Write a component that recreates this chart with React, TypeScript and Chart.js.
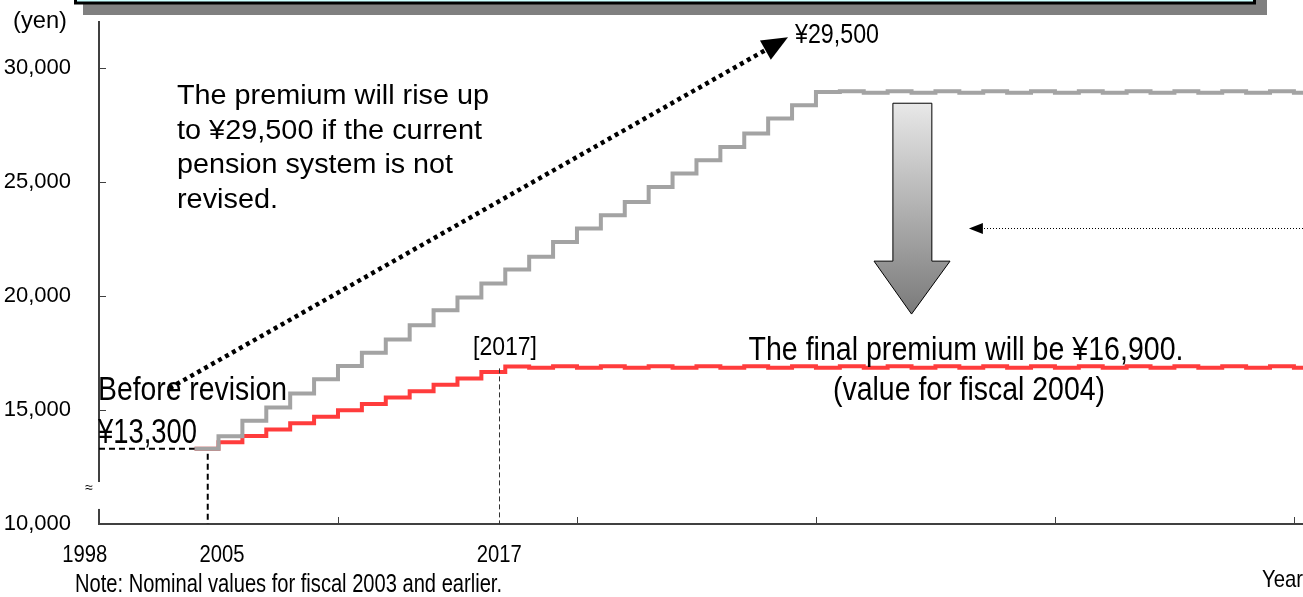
import React, { useEffect, useRef } from 'react';
import { Chart, registerables } from 'chart.js';

Chart.register(...registerables);

const FONT = '"Liberation Sans", Arial, Helvetica, sans-serif';

// fiscal years (each value holds from the start of that year to the next)
const YEARS = [
  2004, 2005, 2006, 2007, 2008, 2009, 2010, 2011, 2012, 2013, 2014, 2015,
  2016, 2017, 2018, 2019, 2020, 2021, 2022, 2023, 2024, 2025, 2026, 2027,
  2028, 2029, 2030, 2031, 2032, 2033, 2034, 2035, 2036, 2037, 2038, 2039,
  2040, 2041, 2042, 2043, 2044, 2045, 2046, 2047, 2048, 2049, 2050, 2051,
];

// premium without revision (grey)
const PREMIUM_UNREVISED = [
  13300, 13850, 14520, 15110, 15720, 16340, 16920, 17500, 18090, 18710, 19370, 19930,
  20540, 21150, 21710, 22360, 22950, 23530, 24110, 24770, 25360, 25940, 26520, 27110,
  27770, 28350, 28930, 28960, 28900, 28960, 28900, 28960, 28900, 28960, 28900, 28960,
  28900, 28960, 28900, 28960, 28900, 28960, 28900, 28960, 28900, 28960, 28900, 28960,
];

// premium after revision (red)
const PREMIUM_REVISED = [
  13300, 13580, 13860, 14140, 14420, 14700, 14980, 15260, 15540, 15820, 16100, 16380,
  16660, 16900, 16850, 16910, 16850, 16910, 16850, 16910, 16850, 16910, 16850, 16910,
  16850, 16910, 16850, 16910, 16850, 16910, 16850, 16910, 16850, 16910, 16850, 16910,
  16850, 16910, 16850, 16910, 16850, 16910, 16850, 16910, 16850, 16910, 16850, 16910,
];

const Y_TICKS = [10000, 15000, 20000, 25000, 30000];
const X_TICK_MARKS = [2000, 2010, 2020, 2030, 2040, 2050];
const X_LABELS = ['1998', '2005', '2017'];
const X_LABEL_AT = [1999.4, 2005.15, 2016.75];

const BEFORE_REVISION = 13300;
const MARK_2005 = 2004.55;
const MARK_2017 = 2016.75;

// annotation anchors in data units
const RISE_ARROW_FROM = { x: 2002.95, y: 15950 };
const RISE_ARROW_TO = { x: 2028.83, y: 31330 };
const DOWN_ARROW = { l: 2033.22, r: 2034.85, hl: 2032.43, hr: 2035.61, c: 2034.0, top: 28440, base: 21520, tip: 19200 };
const POINTER_TIP = { x: 2036.4, y: 22960 };

function drawText(
  ctx: CanvasRenderingContext2D,
  s: string,
  x: number,
  y: number,
  size: number,
  width: number,
  align: 'left' | 'center' | 'right' = 'left'
) {
  ctx.save();
  ctx.font = `${size}px ${FONT}`;
  const w = ctx.measureText(s).width;
  const k = width / w;
  let x0 = x;
  if (align === 'center') x0 = x - width / 2;
  else if (align === 'right') x0 = x - width;
  ctx.translate(x0, y);
  ctx.scale(k, 1);
  ctx.textAlign = 'left';
  ctx.textBaseline = 'alphabetic';
  ctx.fillStyle = '#000';
  ctx.fillText(s, 0, 0);
  ctx.restore();
}

function line(ctx: CanvasRenderingContext2D, x1: number, y1: number, x2: number, y2: number) {
  ctx.beginPath();
  ctx.moveTo(x1, y1);
  ctx.lineTo(x2, y2);
  ctx.stroke();
}

const decorations = {
  id: 'decorations',
  afterDraw(chart: any) {
    const { ctx, chartArea } = chart;
    const xs = chart.scales.x;
    const ys = chart.scales.y;
    const px = (v: number) => xs.getPixelForValue(v);
    const py = (v: number) => ys.getPixelForValue(v);

    ctx.save();

    // title box (cut off at the top) with shadow
    ctx.fillStyle = '#808080';
    ctx.fillRect(83, 0, 1184, 15);
    ctx.fillStyle = '#ccffff';
    ctx.fillRect(75, -12, 1181, 14);
    ctx.strokeStyle = '#000';
    ctx.lineWidth = 3;
    ctx.strokeRect(75.5, -12, 1179, 15);

    // inward tick marks
    ctx.strokeStyle = '#404040';
    ctx.lineWidth = 1;
    Y_TICKS.slice(1).forEach((v) => {
      const yy = Math.round(py(v)) + 0.5;
      line(ctx, chartArea.left, yy, chartArea.left + 7, yy);
    });
    X_TICK_MARKS.slice(1).forEach((v) => {
      const xx = Math.round(px(v)) + 0.5;
      line(ctx, xx, chartArea.bottom, xx, chartArea.bottom - 7);
    });

    // axis break
    ctx.fillStyle = '#fff';
    ctx.fillRect(chartArea.left - 3, py(11840), 6, py(10660) - py(11840));
    ctx.fillStyle = '#000';
    ctx.font = `14px ${FONT}`;
    ctx.textAlign = 'center';
    ctx.textBaseline = 'middle';
    ctx.fillText('≈', chartArea.left - 10, py(11550));

    // x labels
    X_LABELS.forEach((s, i) => {
      drawText(ctx, s, px(X_LABEL_AT[i]), 562, 24, 45, 'center');
    });

    // dashed guides
    ctx.strokeStyle = '#000';
    ctx.lineWidth = 2;
    ctx.setLineDash([6, 4]);
    line(ctx, chartArea.left, py(BEFORE_REVISION), px(YEARS[0]), py(BEFORE_REVISION));
    line(ctx, px(MARK_2005), py(13080), px(MARK_2005), chartArea.bottom);
    ctx.lineWidth = 1;
    ctx.strokeStyle = '#333';
    ctx.setLineDash([5, 3]);
    line(ctx, Math.round(px(MARK_2017)) + 0.5, py(16820), Math.round(px(MARK_2017)) + 0.5, chartArea.bottom);

    // thick dotted arrow
    const ax1 = px(RISE_ARROW_FROM.x), ay1 = py(RISE_ARROW_FROM.y);
    const ax2 = px(RISE_ARROW_TO.x), ay2 = py(RISE_ARROW_TO.y);
    const ang = Math.atan2(ay2 - ay1, ax2 - ax1);
    const headLen = 26, headW = 11;
    ctx.strokeStyle = '#000';
    ctx.lineWidth = 4.5;
    ctx.lineCap = 'butt';
    ctx.setLineDash([4, 4]);
    line(ctx, ax1, ay1, ax2 - Math.cos(ang) * headLen, ay2 - Math.sin(ang) * headLen);
    ctx.setLineDash([]);
    ctx.fillStyle = '#000';
    ctx.beginPath();
    ctx.moveTo(ax2, ay2);
    ctx.lineTo(ax2 - Math.cos(ang) * headLen - Math.sin(ang) * headW, ay2 - Math.sin(ang) * headLen + Math.cos(ang) * headW);
    ctx.lineTo(ax2 - Math.cos(ang) * headLen + Math.sin(ang) * headW, ay2 - Math.sin(ang) * headLen - Math.cos(ang) * headW);
    ctx.closePath();
    ctx.fill();

    // big gradient down arrow
    const d = DOWN_ARROW;
    const top = py(d.top), base = py(d.base), tip = py(d.tip);
    const grad = ctx.createLinearGradient(0, top, 0, tip);
    grad.addColorStop(0, '#e8e8e8');
    grad.addColorStop(1, '#7a7a7a');
    ctx.beginPath();
    ctx.moveTo(px(d.l), top);
    ctx.lineTo(px(d.r), top);
    ctx.lineTo(px(d.r), base);
    ctx.lineTo(px(d.hr), base);
    ctx.lineTo(px(d.c), tip);
    ctx.lineTo(px(d.hl), base);
    ctx.lineTo(px(d.l), base);
    ctx.closePath();
    ctx.fillStyle = grad;
    ctx.fill();
    ctx.strokeStyle = '#000';
    ctx.lineWidth = 1;
    ctx.stroke();

    // thin dotted pointer arrow from the right
    const tx = px(POINTER_TIP.x), ty = Math.round(py(POINTER_TIP.y)) + 0.5;
    ctx.setLineDash([1, 2]);
    line(ctx, chartArea.right, ty, tx + 12, ty);
    ctx.setLineDash([]);
    ctx.fillStyle = '#000';
    ctx.beginPath();
    ctx.moveTo(tx, ty);
    ctx.lineTo(tx + 14, ty - 5.5);
    ctx.lineTo(tx + 14, ty + 5.5);
    ctx.closePath();
    ctx.fill();

    // texts
    drawText(ctx, '(yen)', 13, 28, 24, 54);
    const lines = ['The premium will rise up', 'to ¥29,500 if the current', 'pension system is not', 'revised.'];
    const widths = [312, 305, 276, 101];
    lines.forEach((s, i) => drawText(ctx, s, 177, 104 + i * 34.5, 27, widths[i]));
    drawText(ctx, '¥29,500', 795, 43, 28, 84);
    drawText(ctx, 'Before revision', 98, 400, 33, 189);
    drawText(ctx, '¥13,300', 98, 443, 35, 99);
    drawText(ctx, '[2017]', 505, 355, 26, 64, 'center');
    drawText(ctx, 'The final premium will be ¥16,900.', 966, 360, 34, 435, 'center');
    drawText(ctx, '(value for fiscal 2004)', 969, 400, 33, 272, 'center');
    drawText(ctx, 'Year', 1262, 587, 24, 41);
    drawText(ctx, 'Note: Nominal values for fiscal 2003 and earlier.', 75, 592, 25, 427);

    ctx.restore();
  },
};

export default function App() {
  const ref = useRef<HTMLCanvasElement>(null);

  useEffect(() => {
    document.body.style.margin = '0';
    document.body.style.background = '#fff';
    const canvas = ref.current;
    if (!canvas) return;
    const chart = new Chart(canvas, {
      type: 'line',
      data: {
        datasets: [
          {
            label: 'Without revision',
            data: YEARS.map((yr, i) => ({ x: yr, y: PREMIUM_UNREVISED[i] })),
            borderColor: '#a3a3a3',
            borderWidth: 4,
            stepped: 'before',
            pointRadius: 0,
            fill: false,
            borderJoinStyle: 'miter',
          },
          {
            label: 'After revision',
            data: YEARS.map((yr, i) => ({ x: yr, y: PREMIUM_REVISED[i] })),
            borderColor: '#ff3c3c',
            borderWidth: 4,
            stepped: 'before',
            pointRadius: 0,
            fill: false,
            borderJoinStyle: 'miter',
          },
        ],
      },
      options: {
        responsive: false,
        animation: false,
        devicePixelRatio: 1,
        events: [],
        layout: { padding: { top: 22, left: 0, right: 0, bottom: 0 } },
        plugins: {
          legend: { display: false },
          tooltip: { enabled: false },
          title: { display: false },
        },
        scales: {
          x: {
            type: 'linear',
            min: 2000,
            max: 2050.38,
            grid: { display: false },
            border: { color: '#404040', width: 2 },
            ticks: { display: false },
            afterFit: (s: any) => {
              s.height = 73;
              s.paddingLeft = 0;
              s.paddingRight = 0;
            },
          },
          y: {
            type: 'linear',
            min: 10000,
            max: 32000,
            grid: { display: false },
            border: { color: '#404040', width: 2 },
            afterBuildTicks: (s: any) => {
              s.ticks = Y_TICKS.map((v) => ({ value: v }));
            },
            ticks: {
              padding: 20,
              color: '#000',
              font: { family: FONT, size: 22 },
              callback: (v: any) => Number(v).toLocaleString('en-US'),
            },
            afterFit: (s: any) => {
              s.width = 99;
              s.paddingTop = 0;
              s.paddingBottom = 0;
            },
          },
        },
      },
      plugins: [decorations],
    } as any);
    return () => chart.destroy();
  }, []);

  return (
    <div style={{ width: 1303, height: 597, background: '#fff' }}>
      <canvas ref={ref} width={1303} height={597} style={{ display: 'block' }} />
    </div>
  );
}
